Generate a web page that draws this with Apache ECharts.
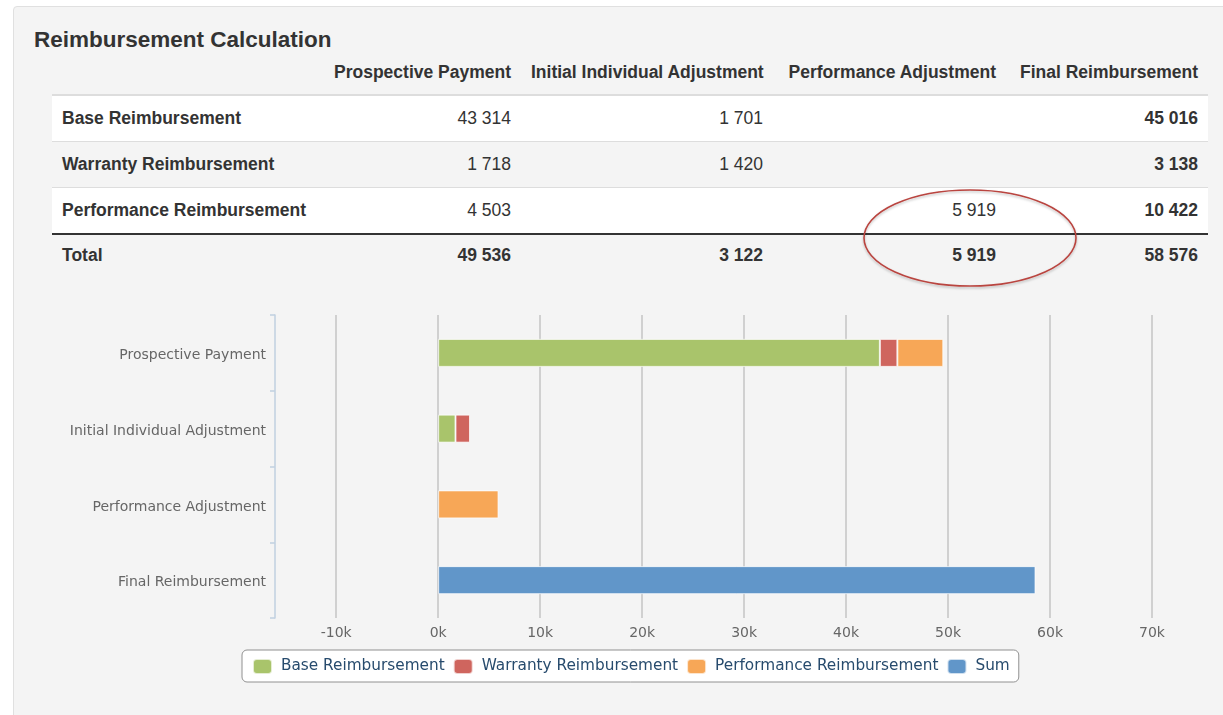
<!DOCTYPE html>
<html>
<head>
<meta charset="utf-8">
<script src="https://cdn.jsdelivr.net/npm/echarts@6/dist/echarts.min.js"></script>
<style>
  html, body { margin: 0; padding: 0; background: #ffffff; width: 1223px; height: 715px; overflow: hidden; }
  #panel { position: absolute; left: 13px; top: 6px; width: 1230px; height: 730px; background: #f4f4f4;
           border: 1px solid #e0e0e0; border-radius: 4px; box-sizing: border-box; }
  #title { position: absolute; left: 34px; top: 27px; font: bold 22.5px "Liberation Sans", Arial, sans-serif; color: #333; line-height: 26px; white-space: nowrap; }
  #tbl { position: absolute; left: 52px; top: 55px; width: 1156px; border-collapse: collapse; table-layout: fixed;
         font-family: "Liberation Sans", Arial, sans-serif; font-size: 17.5px; color: #333; }
  #tbl th { font-weight: bold; text-align: right; padding: 1px 10px 5px 10px; height: 33px; vertical-align: middle; white-space: nowrap;
            border-bottom: 2px solid #dddddd; }
  #tbl td { height: 45px; padding: 0 10px; text-align: right; vertical-align: middle; border-top: 1px solid #dddddd; white-space: nowrap; }
  #tbl td.lbl { text-align: left; font-weight: bold; }
  #tbl tr.white td { background: #ffffff; }
  #tbl tr.total td { border-top: 2px solid #333; font-weight: bold; height: 40px; padding-bottom: 4px; }
  #tbl tr.body td.final { font-weight: bold; }
  #chart { position: absolute; left: 0; top: 290px; width: 1223px; height: 425px; }
  #ellipse { position: absolute; left: 0; top: 0; width: 1223px; height: 715px; pointer-events: none; }
</style>
</head>
<body>
<div id="panel"></div>
<div id="title">Reimbursement Calculation</div>
<table id="tbl"></table>
<div id="chart"></div>
<svg id="ellipse" width="1223" height="715">
  <defs>
    <filter id="sh" x="-10%" y="-10%" width="120%" height="130%">
      <feDropShadow dx="0" dy="1.5" stdDeviation="1.2" flood-color="#000" flood-opacity="0.25"/>
    </filter>
  </defs>
  <ellipse cx="970" cy="238" rx="106" ry="48" fill="none" stroke="#b9443f" stroke-width="1.6" filter="url(#sh)"/>
</svg>
<script>
// ---- data ----
var title = 'Reimbursement Calculation';
var columns = ['Prospective Payment', 'Initial Individual Adjustment', 'Performance Adjustment', 'Final Reimbursement'];
var rowNames = ['Base Reimbursement', 'Warranty Reimbursement', 'Performance Reimbursement'];
var baseRow = [43314, 1701, null, 45016];
var warrantyRow = [1718, 1420, null, 3138];
var performanceRow = [4503, null, 5919, 10422];
var totalRow = [49536, 3122, 5919, 58576];
var totalLabel = 'Total';

var categories = ['Prospective Payment', 'Initial Individual Adjustment', 'Performance Adjustment', 'Final Reimbursement'];
var baseValues = [43314, 1701, null, null];
var warrantyValues = [1718, 1420, null, null];
var performanceValues = [4503, null, 5919, null];
var sumValues = [null, null, null, 58576];
var xTicks = [-10000, 0, 10000, 20000, 30000, 40000, 50000, 60000, 70000];
var seriesNames = ['Base Reimbursement', 'Warranty Reimbursement', 'Performance Reimbursement', 'Sum'];

// ---- table ----
function fmt(v) {
  if (v === null || v === undefined) return '';
  return String(v).replace(/\B(?=(\d{3})+(?!\d))/g, ' ');
}
(function buildTable() {
  var t = document.getElementById('tbl');
  var html = '<colgroup><col style="width:272px"><col style="width:197px"><col style="width:252px"><col style="width:233px"><col style="width:202px"></colgroup>';
  html += '<tr><th></th>' + columns.map(function (c) { return '<th>' + c + '</th>'; }).join('') + '</tr>';
  var rows = [baseRow, warrantyRow, performanceRow];
  rows.forEach(function (r, i) {
    html += '<tr class="body ' + (i % 2 === 0 ? 'white' : '') + '"><td class="lbl">' + rowNames[i] + '</td>' +
      r.map(function (v, j) { return '<td' + (j === 3 ? ' class="final"' : '') + '>' + fmt(v) + '</td>'; }).join('') + '</tr>';
  });
  html += '<tr class="total"><td class="lbl">' + totalLabel + '</td>' + totalRow.map(function (v) { return '<td>' + fmt(v) + '</td>'; }).join('') + '</tr>';
  t.innerHTML = html;
})();

// ---- chart ----
var chart = echarts.init(document.getElementById('chart'), null, { renderer: 'canvas' });
var colors = ['#a9c46b', '#cf655e', '#f7a757', '#6196c9'];
var seriesData = [baseValues, warrantyValues, performanceValues, sumValues];
var font = '"DejaVu Sans", Verdana, sans-serif';
chart.setOption({
  animation: false,
  backgroundColor: 'transparent',
  color: colors,
  grid: { left: 275, right: 71, top: 25, bottom: 97, containLabel: false },
  legend: {
    left: 242, top: 360,
    backgroundColor: '#ffffff', borderColor: '#909090', borderWidth: 1, borderRadius: 5,
    padding: [8, 9, 7, 10], itemGap: 8, itemWidth: 19, itemHeight: 15, icon: 'roundRect',
    textStyle: { color: '#274b6d', fontSize: 15.3, fontFamily: font, padding: [0, 0, 0, 4] },
    data: seriesNames
  },
  xAxis: {
    type: 'value', min: -16000, max: 70000,
    axisLine: { show: false },
    axisTick: { show: false, customValues: xTicks },
    axisLabel: { customValues: xTicks, color: '#666', fontSize: 14, fontFamily: font, margin: 8,
      formatter: function (v) { return (v / 1000) + 'k'; } },
    splitLine: { show: true, lineStyle: { color: '#c4c4c4', width: 1.5 } }
  },
  yAxis: {
    type: 'category', inverse: true, data: categories,
    axisLine: { show: true, onZero: false, lineStyle: { color: '#c0d0e0', width: 1.5 } },
    axisTick: { show: true, length: 5, lineStyle: { color: '#c0d0e0', width: 1.5 } },
    axisLabel: { color: '#666', fontSize: 14, fontFamily: font, margin: 9,
      formatter: function (v) { return '{a|' + v + '}'; },
      rich: { a: { color: '#666', fontSize: 14, fontFamily: font, padding: [5, 0, 0, 0] } } },
    splitLine: { show: false }
  },
  series: seriesNames.map(function (n, i) {
    return {
      name: n, type: 'bar', stack: 'total', barWidth: 28,
      itemStyle: { color: colors[i], borderColor: 'rgba(255,255,255,0.7)', borderWidth: 1 },
      data: seriesData[i]
    };
  })
});
</script>
</body>
</html>
